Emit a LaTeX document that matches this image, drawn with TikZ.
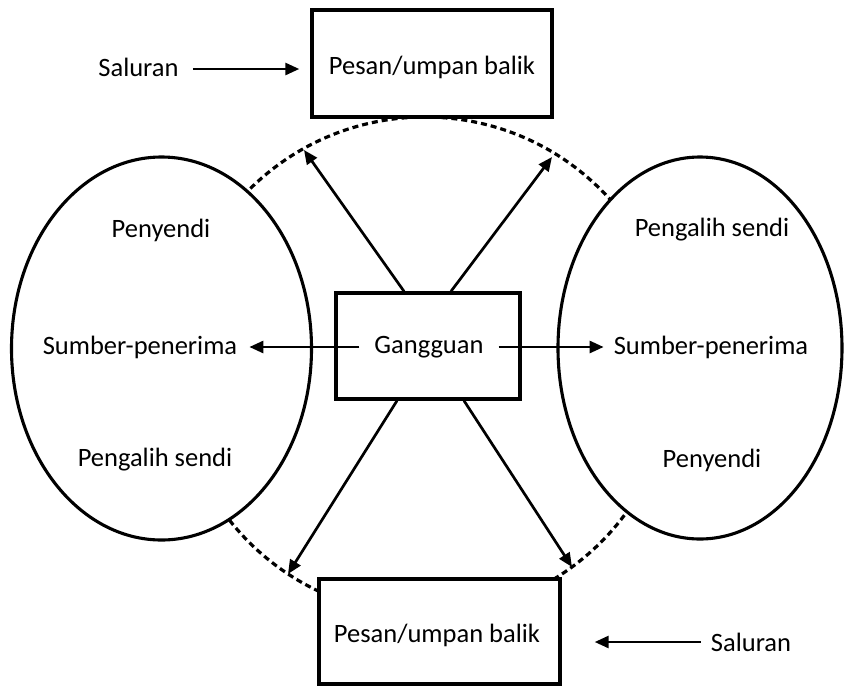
\documentclass[tikz,border=0pt]{standalone}
\usepackage{fontspec}
\setmainfont{Carlito}
\usetikzlibrary{arrows.meta,shapes.geometric,calc}
\begin{document}
\begin{tikzpicture}[x=1pt,y=-1pt,
  lbl/.style={font=\fontsize{26.5}{30}\selectfont, inner sep=0pt},
  boxnode/.style={draw, line width=3.4pt, fill=white, rectangle, inner sep=0pt},
  ellnode/.style={draw, line width=3.1pt, fill=white, ellipse, inner sep=0pt},
  arr/.style={line width=2.7pt, -{Triangle[length=14pt,width=12pt]}},
  dashcirc/.style={line width=3.2pt, dash pattern=on 6pt off 4pt}
]
\useasboundingbox (0,0) rectangle (844,686);
% dashed circle
\draw[dashcirc] (425,366) circle (249);
% ellipses
\node[ellnode, minimum width=300pt, minimum height=383pt] (lell) at (161.5,348.5) {};
\node[ellnode, minimum width=284pt, minimum height=382pt] (rell) at (700,348) {};
% boxes
\node[boxnode, minimum width=240pt, minimum height=107pt] (topbox) at (432,63.5) {};
\node[boxnode, minimum width=241pt, minimum height=105pt] (botbox) at (439.5,631.5) {};
\node[boxnode, minimum width=184pt, minimum height=106pt] (cbox) at (428,346) {};
% texts
\node[lbl] (ttop) at (432,67) {Pesan/umpan balik};
\node[lbl] (tbot) at (437,635) {Pesan/umpan balik};
\node[lbl, inner xsep=15pt] (gang) at (429,347) {Gangguan};
\node[lbl] (salt) at (138.5,67) {Saluran};
\node[lbl] (salb) at (751,642) {Saluran};
\node[lbl] (lpen) at (161,230) {Penyendi};
\node[lbl] (lsp) at (140,347) {Sumber-penerima};
\node[lbl] (lpa) at (155,460) {Pengalih sendi};
\node[lbl] (rpa) at (712,230) {Pengalih sendi};
\node[lbl] (rsp) at (711,347) {Sumber-penerima};
\node[lbl] (rpen) at (712,460) {Penyendi};
% tips on the dashed circle
\coordinate (tul) at (304,150);
\coordinate (tur) at (552,157);
\coordinate (tll) at (288,574);
\coordinate (tlr) at (572,567);
% arrows
\draw[arr] ([xshift=-24pt]cbox.north) -- (tul);
\draw[arr] ([xshift=23pt]cbox.north) -- (tur);
\draw[arr] ([xshift=-31pt]cbox.south) -- (tll);
\draw[arr] ([xshift=36pt]cbox.south) -- (tlr);
\draw[arr] (gang.west) -- ([xshift=12pt]lsp.east);
\draw[arr] (gang.east) -- ([xshift=-10pt]rsp.west);
\draw[arr] ([xshift=14pt,yshift=-2pt]salt.east) -- ([xshift=-11pt,yshift=-2pt]salt.east -| topbox.west);
\draw[arr] ([xshift=-10pt]salb.west) -- ([xshift=33pt]salb.west -| botbox.east);
\end{tikzpicture}
\end{document}
